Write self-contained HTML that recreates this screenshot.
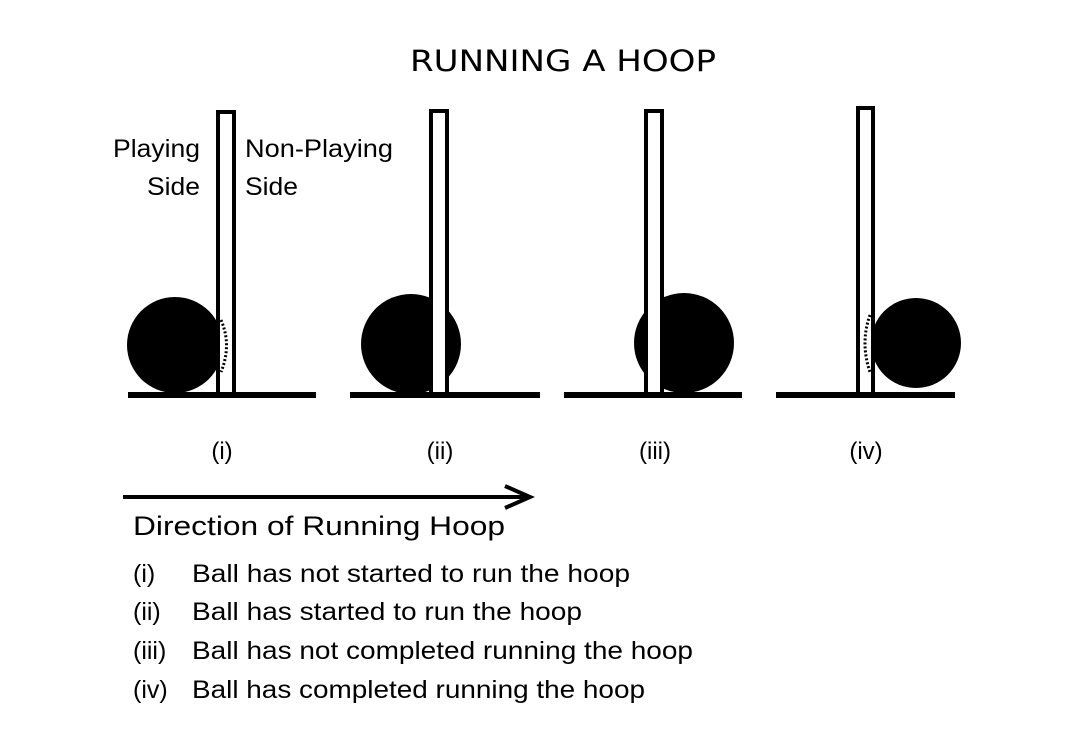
<!DOCTYPE html>
<html><head><style>
body{margin:0;background:#fff;}
svg{display:block;}
text{font-family:"Liberation Sans",sans-serif;fill:#000;}
</style></head><body>
<svg width="1083" height="750" viewBox="0 0 1083 750">
<text x="410" y="71" font-size="29" textLength="306" lengthAdjust="spacingAndGlyphs" style="font-family:'DejaVu Sans',sans-serif">RUNNING A HOOP</text>
<!-- (i) -->
<circle cx="175" cy="345" r="48"/>
<rect x="218" y="112" width="16" height="283" fill="#fff" stroke="#000" stroke-width="4"/>
<path d="M221 320 Q232 345 221 372" fill="none" stroke="#000" stroke-width="3" stroke-dasharray="2,2"/>
<rect x="128" y="392" width="188" height="6"/>
<text x="113" y="157" font-size="25" textLength="87" lengthAdjust="spacingAndGlyphs">Playing</text>
<text x="147" y="195" font-size="25" textLength="53" lengthAdjust="spacingAndGlyphs">Side</text>
<text x="245" y="157" font-size="25" textLength="148" lengthAdjust="spacingAndGlyphs">Non-Playing</text>
<text x="245" y="195" font-size="25" textLength="53" lengthAdjust="spacingAndGlyphs">Side</text>
<!-- (ii) -->
<circle cx="411" cy="344" r="50"/>
<rect x="431" y="111" width="16" height="284" fill="#fff" stroke="#000" stroke-width="4"/>
<rect x="350" y="392" width="190" height="6"/>
<!-- (iii) -->
<circle cx="684" cy="343" r="50"/>
<rect x="646" y="111" width="16" height="284" fill="#fff" stroke="#000" stroke-width="4"/>
<rect x="564" y="392" width="178" height="6"/>
<!-- (iv) -->
<circle cx="916" cy="343" r="45"/>
<rect x="858" y="108" width="15" height="287" fill="#fff" stroke="#000" stroke-width="4"/>
<path d="M870 315 Q860 343 870 372" fill="none" stroke="#000" stroke-width="3" stroke-dasharray="2,2"/>
<rect x="776" y="392" width="179" height="6"/>
<text x="222" y="459" font-size="24" text-anchor="middle">(i)</text>
<text x="440" y="459" font-size="24" text-anchor="middle">(ii)</text>
<text x="655" y="459" font-size="24" text-anchor="middle">(iii)</text>
<text x="866" y="459" font-size="24" text-anchor="middle">(iv)</text>
<line x1="123" y1="497" x2="528" y2="497" stroke="#000" stroke-width="4"/>
<path d="M505 486 L530 497 L505 508" fill="none" stroke="#000" stroke-width="4"/>
<text x="133" y="535" font-size="27" textLength="372" lengthAdjust="spacingAndGlyphs">Direction of Running Hoop</text>
<text x="133" y="582" font-size="25">(i)</text><text x="192" y="582" font-size="25" textLength="438" lengthAdjust="spacingAndGlyphs">Ball has not started to run the hoop</text>
<text x="133" y="620" font-size="25">(ii)</text><text x="192" y="620" font-size="25" textLength="390" lengthAdjust="spacingAndGlyphs">Ball has started to run the hoop</text>
<text x="133" y="659" font-size="25">(iii)</text><text x="192" y="659" font-size="25" textLength="501" lengthAdjust="spacingAndGlyphs">Ball has not completed running the hoop</text>
<text x="133" y="698" font-size="25">(iv)</text><text x="192" y="698" font-size="25" textLength="453" lengthAdjust="spacingAndGlyphs">Ball has completed running the hoop</text>
</svg>
</body></html>
